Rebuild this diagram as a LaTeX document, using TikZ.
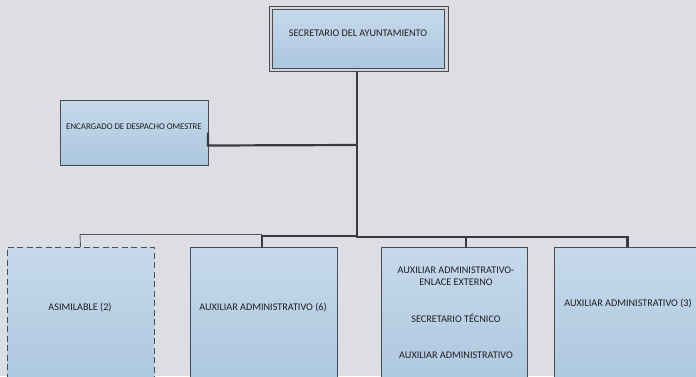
\documentclass[tikz,border=0pt]{standalone}
\usepackage{fontspec}
\setmainfont{Carlito}
\definecolor{bg}{HTML}{DCDEE4}
\definecolor{boxtop}{HTML}{C6D9EB}
\definecolor{boxbot}{HTML}{ACC7DE}
\definecolor{boxline}{HTML}{4A4C50}
\definecolor{wire}{HTML}{3A3B3E}
\definecolor{thinwire}{HTML}{55575B}
\definecolor{txt}{HTML}{1E1F22}
\begin{document}
\begin{tikzpicture}[x=1pt,y=-1pt,
  box/.style={draw=boxline, line width=0.8pt, top color=boxtop, bottom color=boxbot,
    anchor=north west, inner sep=0pt, outer sep=0pt},
  frame/.style={draw=boxline, line width=0.8pt, fill=bg!90!gray,
    anchor=north west, inner sep=0pt, outer sep=0pt},
  lbl/.style={text=txt, font=\fontsize{10.2}{12.4}\selectfont, align=center, inner sep=0pt},
  small lbl/.style={lbl, font=\fontsize{8.8}{10.6}\selectfont},
  conn/.style={draw=wire, line width=2.2pt},
  thinconn/.style={draw=thinwire, line width=0.9pt}
]
% canvas
\fill[bg] (0,0) rectangle (696,376);
\clip (0,0) rectangle (696,376);

% top: secretary, framed box
\node[frame, minimum width=179, minimum height=65] (secframe) at (269,6) {};
\node[box, minimum width=172, minimum height=59] (sec) at (272,9) {};
\node[lbl] (sect) at (358,33) {SECRETARIO DEL AYUNTAMIENTO};

% side: dispatch officer
\node[box, minimum width=148, minimum height=65] (enc) at (60,100) {};
\node[small lbl] (enct) at (134,127) {ENCARGADO DE DESPACHO OMESTRE};

% bottom row
\node[box, dashed, dash pattern=on 6pt off 3.5pt, minimum width=147, minimum height=140] (asi) at (7,247) {};
\node[lbl] (asit) at (80,307) {ASIMILABLE (2)};

\node[box, minimum width=147, minimum height=140] (aux6) at (190,247) {};
\node[lbl] (aux6t) at (263,307) {AUXILIAR ADMINISTRATIVO (6)};

\node[box, minimum width=146, minimum height=140] (auxm) at (381,247) {};
\node[lbl] (auxmt1) at (456,276) {AUXILIAR ADMINISTRATIVO-\\ENLACE EXTERNO};
\node[lbl] (auxmt2) at (456,318) {SECRETARIO TÉCNICO};
\node[lbl] (auxmt3) at (456,355) {AUXILIAR ADMINISTRATIVO};

\node[box, minimum width=147, minimum height=140] (aux3) at (554,247) {};
\node[lbl] (aux3t) at (628,303) {AUXILIAR ADMINISTRATIVO (3)};

% junction points on the trunk
\coordinate (jenc) at (357,145);
\coordinate (jbus) at (357,236);
\coordinate (jl) at (262,236);
\coordinate (jm) at (466,237);

% trunk and side branch
\draw[conn] (secframe.south -| jbus) -- (jbus);
\draw[conn] (enc.east) -- ++(0,13) -- (jenc);

% bus to the bottom row
\draw[conn] (jbus) -- (jl) -- (jl |- aux6.north);
\draw[thinconn] (jl |- 0,234.5) -- (80,234.5) -- (asi.north);
\draw[conn] (jbus) -- (357,237) -| (aux3.north);
\draw[conn] (jm) -- (jm |- auxm.north);
\end{tikzpicture}
\end{document}
